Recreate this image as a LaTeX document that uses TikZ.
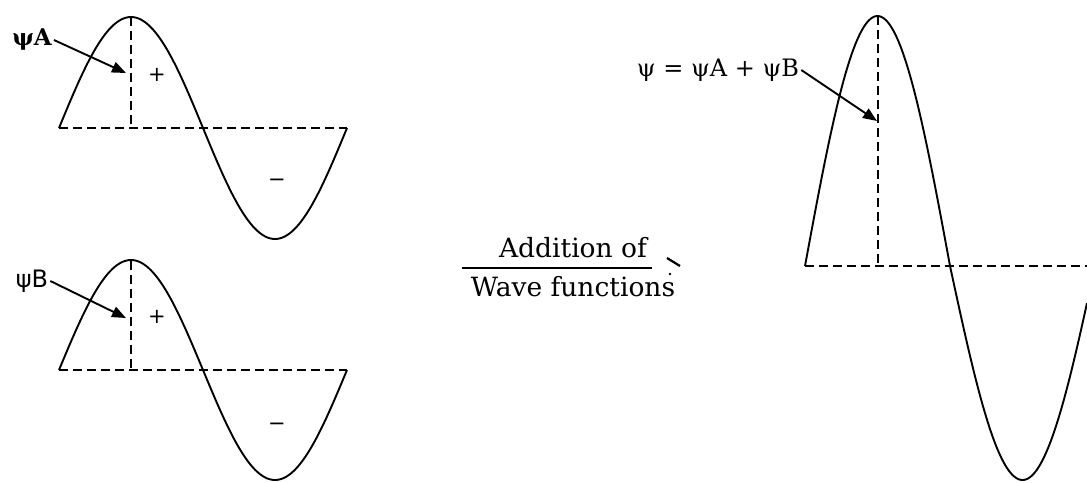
\documentclass[tikz,border=0pt]{standalone}
\usepackage{fontspec}
\setmainfont{DejaVu Serif}
\newfontfamily\sansf{DejaVu Sans}
\usetikzlibrary{arrows.meta}
\begin{document}
\begin{tikzpicture}[x=1pt,y=-1pt,
  wave/.style={line width=1.9pt},
  guide/.style={line width=1.9pt, dash pattern=on 9pt off 5pt},
  arr/.style={line width=1.9pt, -{Triangle[length=14pt,width=11pt]}},
  lbl/.style={inner sep=2pt, font=\fontsize{22}{24}\selectfont},
  sign/.style={inner sep=0pt, font=\sansf\fontsize{21}{23}\selectfont},
  midtext/.style={inner sep=0pt, font=\fontsize{26.5}{28}\selectfont}]
\useasboundingbox (0,0) rectangle (1087,482);
% top-left wave (psi A)
\draw[wave] plot[domain=0:360,samples=120,smooth] ({59+0.8*\x},{128-111*sin(\x)});
\draw[guide] (59,128) -- (347,128);
\draw[guide] (131,17) -- (131,128);
\node[lbl, font=\bfseries\fontsize{23}{25}\selectfont] (lA) at (32,40) {ψA};
\coordinate (tA) at (126,73);
\draw[arr] (lA.east) -- (tA);
\node[sign] (pA) at (157,75) {+};
\node[sign] (mA) at (277,183) {−};
% bottom-left wave (psi B)
\draw[wave] plot[domain=0:360,samples=120,smooth] ({59+0.8*\x},{370-110*sin(\x)});
\draw[guide] (59,370) -- (347,370);
\draw[guide] (131,261) -- (131,370);
\node[lbl, font=\sansf\fontsize{24}{26}\selectfont] (lB) at (32,281) {ψB};
\coordinate (tB) at (126,318);
\draw[arr] (lB.east) -- (tB);
\node[sign] (pB) at (157,317) {+};
\node[sign] (mB) at (277,427) {−};
% middle text
\node[midtext] (add) at (573,248) {Addition of};
\node[midtext] (wf) at (573,287) {Wave functions};
\coordinate (rl) at (462,268);
\coordinate (rr) at (652,268);
\draw[line width=1.4pt] (rl) -- (rr);
\draw[line width=2.2pt] (667,258) -- (680,266);
\fill (670,274) circle (1.3pt);
% right wave (sum)
\draw[wave] plot[domain=0:180,samples=80,smooth] ({805+0.8056*\x},{266-250*sin(\x)});
\draw[wave] plot[domain=180:350,samples=80,smooth] ({805+0.8056*\x},{266-214*sin(\x)});
\draw[guide] (805,266) -- (1087,266);
\draw[guide] (878,16) -- (878,266);
\node[lbl, font=\fontsize{24}{26}\selectfont] (lS) at (718,70) {ψ = ψA + ψB};
\coordinate (tS) at (877,121);
\draw[arr] (lS.east) -- (tS);
\end{tikzpicture}
\end{document}
